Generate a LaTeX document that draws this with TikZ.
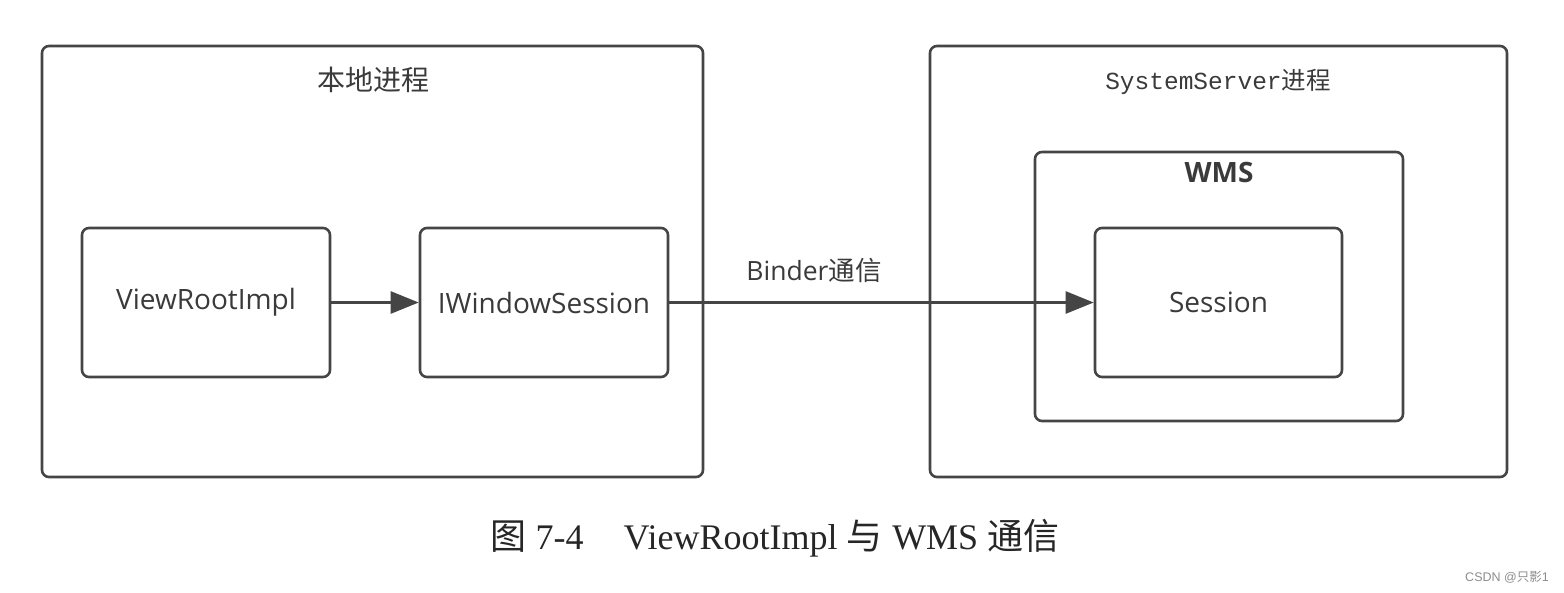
\documentclass[tikz,border=0pt]{standalone}
\usepackage{fontspec}
\setmainfont{Open Sans}
\newfontfamily\cjk{Noto Sans CJK SC}
\newfontfamily\capfont{Liberation Serif}
\newfontfamily\monofont{Liberation Mono}
\newfontfamily\wmfont{Liberation Sans}
\usetikzlibrary{arrows.meta}
\definecolor{ln}{HTML}{454545}
\definecolor{tx}{HTML}{3A3A3A}
\tikzset{
  box/.style={draw=ln, line width=2.6pt, rounded corners=7pt, inner sep=0pt},
  lbl/.style={text=tx, font=\fontsize{28}{32}\selectfont, inner sep=0pt},
  conn/.style={draw=ln, line width=2.6pt, -{Triangle[length=28pt,width=22pt]}}
}
\begin{document}
\begin{tikzpicture}[x=1pt,y=-1pt]
\useasboundingbox (0,0) rectangle (1564,592);
% containers
\node[box, minimum width=661pt, minimum height=431pt] (local) at (372.5,261.5) {};
\node[lbl, font=\cjk\fontsize{28}{32}\selectfont] (localt) at (373,80) {本地进程};
\node[box, minimum width=577pt, minimum height=431pt] (sys) at (1218.5,261.5) {};
\node[lbl, font=\fontsize{24.5}{28}\selectfont] (syst) at (1218,82) {{\monofont SystemServer}{\cjk 进程}};
\node[box, minimum width=368pt, minimum height=269pt] (wms) at (1219,286.5) {};
\node[lbl, font=\bfseries\fontsize{28}{32}\selectfont] (wmst) at (1219,172) {WMS};
% inner boxes
\node[box, minimum width=248pt, minimum height=149pt, lbl] (vri) at (206,302.5) {ViewRootImpl};
\node[box, minimum width=248pt, minimum height=149pt, lbl] (iws) at (544,302.5) {IWindowSession};
\node[box, minimum width=247pt, minimum height=149pt, lbl] (ses) at (1218.5,302.5) {Session};
% connectors
\draw[conn] (vri) -- (iws);
\draw[conn] (iws) -- (ses);
\node[lbl, font=\fontsize{26.5}{30}\selectfont] (binder) at (814,270) {Binder{\cjk 通信}};
% caption
\node[inner sep=0pt, text=black!85, font=\fontsize{36}{40}\selectfont] (cap) at (775,538) {{\cjk 图} {\capfont 7-4\hspace{40pt}ViewRootImpl} {\cjk 与} {\capfont WMS} {\cjk 通信}};
\node[inner sep=0pt, text=black!45, font=\fontsize{12.5}{14}\selectfont] (wm) at (1507,577) {{\wmfont CSDN @}{\cjk 只影}{\wmfont 1}};
\end{tikzpicture}
\end{document}
